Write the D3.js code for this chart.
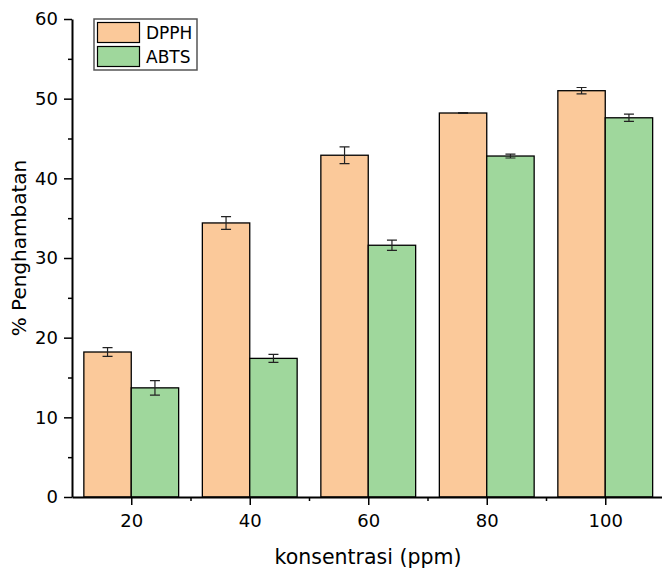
<!DOCTYPE html>
<meta charset="utf-8">
<style>
body { margin: 0; background: #fff; }
text { font-family: "DejaVu Sans", Verdana, sans-serif; fill: #000; }
.bar { stroke: #000; stroke-width: 1.3; }
.err { stroke: #222; stroke-width: 1.2; fill: none; }
</style>
<body></body>
<script src="https://d3js.org/d3.v7.min.js"></script>
<script>
// data
var concentrations = [20, 40, 60, 80, 100];
var dpph = [18.2, 34.4, 42.9, 48.2, 51.0];
var dpphErr = [0.55, 0.8, 1.05, 0.05, 0.4];
var abts = [13.7, 17.4, 31.6, 42.8, 47.6];
var abtsErr = [0.9, 0.5, 0.65, 0.25, 0.45];
var seriesNames = ["DPPH", "ABTS"];
var colors = ["#fbc99a", "#9fd79c"];

var width = 662, height = 571;
var svg = d3.select("body").append("svg")
    .attr("width", width).attr("height", height);

var x = d3.scaleLinear().domain([10, 110]).range([72, 664.5]);
var y = d3.scaleLinear().domain([0, 60]).range([497, 19]);
var barW = 8; // in x units

var series = [
  {name: seriesNames[0], vals: dpph, err: dpphErr, off: -barW, color: colors[0]},
  {name: seriesNames[1], vals: abts, err: abtsErr, off: 0, color: colors[1]}
];

series.forEach(function(s) {
  var g = svg.append("g");
  g.selectAll("rect").data(concentrations).enter().append("rect")
    .attr("class", "bar")
    .attr("x", function(c) { return x(c + s.off); })
    .attr("width", x(barW) - x(0))
    .attr("y", function(c, i) { return y(s.vals[i]); })
    .attr("height", function(c, i) { return y(0) - y(s.vals[i]); })
    .attr("fill", s.color);

  var eg = g.selectAll(".errg").data(concentrations).enter().append("g");
  eg.append("path").attr("class", "err")
    .attr("d", function(c, i) {
      var cx = x(c + s.off + barW / 2);
      var t = y(s.vals[i] + s.err[i]), b = y(s.vals[i] - s.err[i]);
      return "M" + (cx - 5) + "," + t + "H" + (cx + 5) +
             "M" + cx + "," + t + "V" + b +
             "M" + (cx - 5) + "," + b + "H" + (cx + 5);
    });
});

// axes
svg.append("g")
    .attr("transform", "translate(72,0)")
    .call(d3.axisLeft(y).tickValues(d3.range(5, 60, 10)).tickSize(4).tickFormat(""))
    .call(function(g) { g.select(".domain").remove(); })
    .selectAll("line").attr("stroke-width", 1.5);
var ya = svg.append("g")
    .attr("transform", "translate(72,0)")
    .call(d3.axisLeft(y).tickValues(d3.range(0, 61, 10)).tickSize(8).tickSizeOuter(0).tickPadding(6));
ya.select(".domain").attr("stroke-width", 2);
ya.selectAll("line").attr("stroke-width", 1.5);
ya.selectAll("text").style("font-size", "18px");

svg.append("g")
    .attr("transform", "translate(0,497)")
    .call(d3.axisBottom(x).tickValues(d3.range(30, 110, 20)).tickSize(4).tickFormat(""))
    .call(function(g) { g.select(".domain").remove(); })
    .selectAll("line").attr("stroke-width", 1.5);
var xa = svg.append("g")
    .attr("transform", "translate(0,497)")
    .call(d3.axisBottom(x).tickValues(concentrations).tickSize(8).tickSizeOuter(0).tickPadding(9));
xa.select(".domain").attr("stroke-width", 2);
xa.selectAll("line").attr("stroke-width", 1.5);
xa.selectAll("text").style("font-size", "18px");

svg.append("text")
    .attr("x", 368).attr("y", 564)
    .attr("text-anchor", "middle")
    .style("font-size", "20.5px")
    .text("konsentrasi (ppm)");

svg.append("text")
    .attr("transform", "translate(26,248) rotate(-90)")
    .attr("text-anchor", "middle")
    .style("font-size", "20px")
    .text("% Penghambatan");

// legend
var lg = svg.append("g").attr("transform", "translate(94,19)");
lg.append("rect").attr("width", 103).attr("height", 51)
    .attr("fill", "#fff").attr("stroke", "#555").attr("stroke-width", 1.5);
series.forEach(function(s, i) {
  lg.append("rect").attr("x", 3.5).attr("y", 3.5 + i * 24)
    .attr("width", 42).attr("height", 20)
    .attr("fill", s.color).attr("stroke", "#000").attr("stroke-width", 1.2);
  lg.append("text").attr("x", 52).attr("y", 20 + i * 24)
    .style("font-size", "17px").text(s.name);
});
</script>
